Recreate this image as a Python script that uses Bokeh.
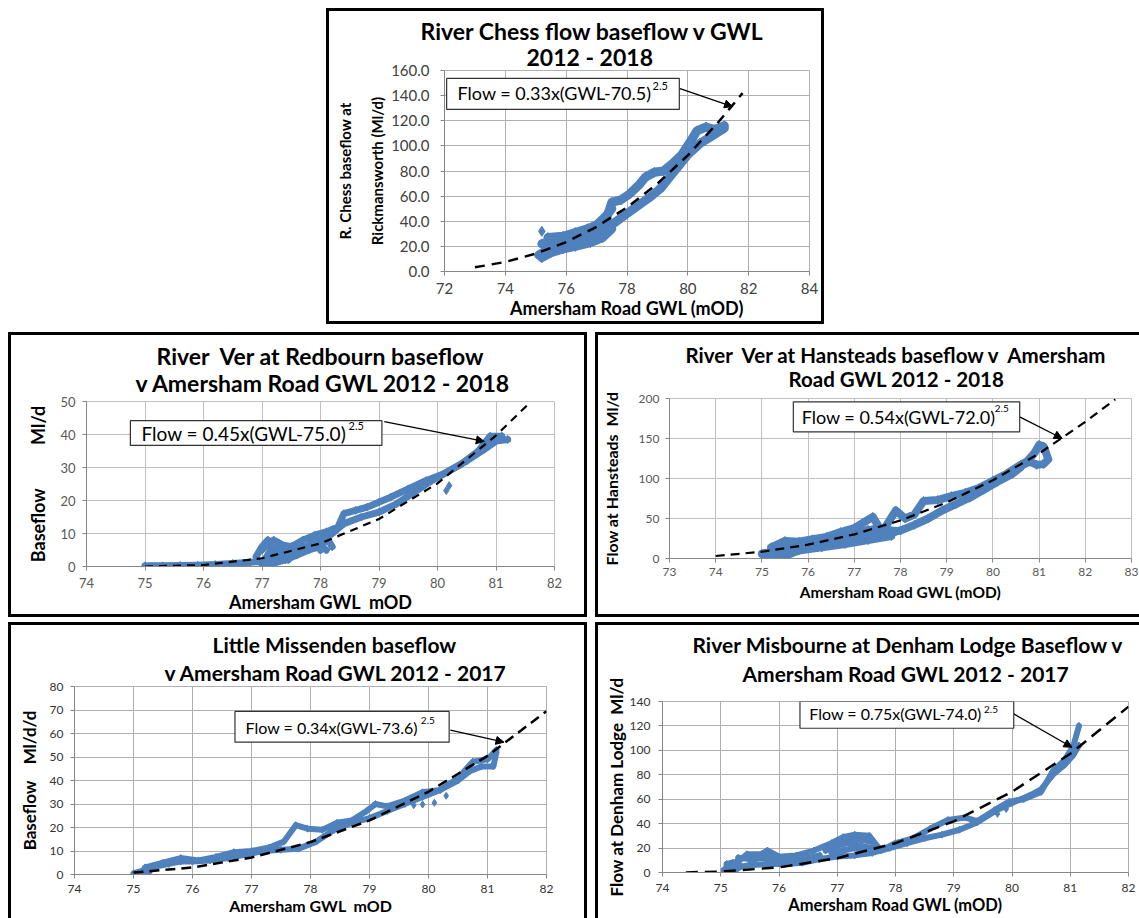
from bokeh.plotting import figure
from bokeh.layouts import column, row
from bokeh.models import (Range1d, FixedTicker, NumeralTickFormatter, Label, Title,
                          BoxAnnotation, Arrow, NormalHead, Spacer)
from bokeh.embed import file_html
from bokeh.resources import INLINE

BLUE = "#4F81BD"
FONT = "Lato"
NB = "\u00a0"

# ---------------- data: River Chess ----------------
chess_xticks = [72, 74, 76, 78, 80, 82, 84]
chess_yticks = [0, 20, 40, 60, 80, 100, 120, 140, 160]
chess_a_x = [75.1, 75.3, 75.5, 75.8, 76.1, 76.4, 76.7, 77.0, 77.3, 77.6, 78.0, 78.4, 78.8, 79.1, 79.4, 79.7, 80.0, 80.4, 80.8, 81.2]
chess_a_y = [13, 16, 19, 21, 22, 24, 27, 30, 34, 39, 46, 53, 60, 66, 75, 84, 93, 102, 108, 114]
chess_b_x = [75.2, 75.5, 75.8, 76.1, 76.4, 76.7, 77.0, 77.3, 77.5, 77.8, 78.1, 78.4, 78.6, 78.9, 79.2, 79.5, 79.8, 80.1, 80.3, 80.6, 80.9, 81.2]
chess_b_y = [22, 24, 25, 27, 28, 31, 34, 40, 55, 57, 62, 69, 75, 79, 80, 86, 93, 104, 112, 115, 113, 116]
chess_c_x = [75.6, 76.0, 76.5, 77.0, 77.4]
chess_c_y = [17, 19, 22, 26, 32]
chess_d_x = [75.2, 75.5, 75.9, 76.3, 76.8, 77.2, 77.5]
chess_d_y = [11, 15, 18, 20, 23, 27, 34]
chess_e_x = [75.4, 75.9, 76.3, 76.7, 77.0, 77.3, 77.5]
chess_e_y = [27, 28, 31, 34, 37, 44, 50]
chess_out_x = [75.2]
chess_out_y = [32]
chess_fit_x = [73, 74, 75, 76, 77, 78, 79, 80, 81, 81.8]
chess_fit_y = [3.3, 7.6, 14.2, 23.4, 35.6, 51.0, 69.9, 92.5, 118.8, 142]

# ---------------- data: Ver at Redbourn ----------------
red_xticks = [74, 75, 76, 77, 78, 79, 80, 81, 82]
red_yticks = [0, 10, 20, 30, 40, 50]
red_a_x = [75.0, 75.3, 75.6, 75.9, 76.2, 76.5, 76.8, 77.0, 77.2, 77.4, 77.6, 77.8, 78.0, 78.2, 78.4, 78.7, 79.0, 79.3, 79.6, 79.9, 80.2, 80.5, 80.8, 81.0, 81.2]
red_a_y = [0.2, 0.2, 0.3, 0.4, 0.6, 0.9, 1.3, 1.6, 2.5, 3.5, 4.5, 6.5, 8.5, 10, 13, 15, 16.5, 19, 22.5, 26, 29, 32, 35.5, 38, 38.5]
red_b_x = [77.0, 77.1, 77.2, 77.35, 77.5, 77.7, 77.9, 78.1, 78.3, 78.4, 78.6, 78.8, 79.0, 79.2, 79.5, 79.8, 80.1, 80.4, 80.7, 80.9, 81.1]
red_b_y = [5, 7, 8, 6.5, 6, 8, 9.5, 10.5, 12, 16, 17, 18, 19.5, 21, 23.5, 26, 28, 31, 35, 39.5, 39.5]
red_c_x = [77.0, 77.2, 77.4, 77.6, 77.8, 78.0, 78.1]
red_c_y = [0.5, 1, 2, 3.5, 5, 6, 5]
red_d_x = [76.9, 77.0, 77.1, 77.2, 77.3, 77.4, 77.5, 77.6]
red_d_y = [3, 6, 8, 4, 7, 3, 6, 4]
red_e_x = [77.8, 77.9, 78.0, 78.1, 78.2]
red_e_y = [6, 9, 5, 9, 6]
red_f_x = [77.05, 77.15, 77.25, 77.35, 77.45, 77.55, 77.7]
red_f_y = [2, 5, 2, 6, 2, 5, 6]
red_out_x = [80.2, 80.15]
red_out_y = [24.5, 23.0]
red_fit_x = [75, 76, 77, 78, 79, 80, 81, 81.6]
red_fit_y = [0, 0.45, 2.5, 7.0, 14.4, 25.2, 39.7, 50.0]

# ---------------- data: Ver at Hansteads ----------------
han_xticks = [73, 74, 75, 76, 77, 78, 79, 80, 81, 82, 83]
han_yticks = [0, 50, 100, 150, 200]
han_a_x = [75.0, 75.3, 75.6, 75.9, 76.2, 76.5, 76.8, 77.1, 77.4, 77.7, 78.0, 78.3, 78.6, 78.9, 79.2, 79.5, 79.8, 80.1, 80.4, 80.6]
han_a_y = [6, 9, 12, 14, 17, 20, 24, 27, 30, 32, 35, 42, 50, 60, 68, 76, 86, 96, 105, 114]
han_b_x = [75.2, 75.5, 75.8, 76.1, 76.4, 76.7, 77.0, 77.2, 77.4, 77.6, 77.9, 78.1, 78.3, 78.5, 78.8, 79.1, 79.4, 79.7, 80.0, 80.3, 80.6]
han_b_y = [14, 22, 21, 24, 27, 33, 38, 45, 52, 33, 60, 50, 55, 72, 73, 78, 82, 88, 97, 106, 117]
han_c_x = [80.6, 80.75, 80.9, 81.0, 81.1, 81.15, 81.2, 81.1, 80.95, 80.8, 80.65]
han_c_y = [117, 122, 132, 142, 140, 132, 124, 118, 117, 121, 117]
han_d_x = [75.3, 75.4, 75.8, 76.3, 76.8, 77.3, 77.8]
han_d_y = [3, 1, 10, 14, 18, 23, 28]
han_e_x = [75.5, 75.9, 76.3, 76.7, 77.0, 77.3, 77.6]
han_e_y = [18, 17, 22, 28, 31, 36, 30]
han_f_x = [75.1, 75.5, 76.0, 76.5, 77.0, 77.5, 77.9]
han_f_y = [4, 12, 18, 22, 30, 38, 34]
han_fit_x = [74, 75, 76, 77, 78, 79, 80, 81, 82, 82.65]
han_fit_y = [3.1, 8.4, 17.3, 30.2, 47.6, 70.0, 97.8, 131.2, 170.8, 199]

# ---------------- data: Little Missenden ----------------
lm_xticks = [74, 75, 76, 77, 78, 79, 80, 81, 82]
lm_yticks = [0, 10, 20, 30, 40, 50, 60, 70, 80]
lm_a_x = [75.0, 75.2, 75.4, 75.6, 75.8, 76.0, 76.3, 76.6, 76.9, 77.2, 77.5, 77.8, 78.1, 78.4, 78.7, 79.0, 79.3, 79.6, 79.9, 80.2, 80.5, 80.7, 80.9, 81.1, 81.15]
lm_a_y = [0.5, 2, 3.5, 4.5, 5.5, 5.5, 6, 7, 8.5, 10, 10.5, 11, 14, 19, 22, 24, 27, 30, 33, 36, 40, 44, 46, 46, 52]
lm_b_x = [75.2, 75.5, 75.8, 76.1, 76.4, 76.7, 77.0, 77.3, 77.55, 77.75, 77.95, 78.2, 78.45, 78.7, 78.95, 79.1, 79.3, 79.6, 79.9, 80.2, 80.5, 80.75, 81.0, 81.15]
lm_b_y = [3, 5, 7, 6, 7.5, 9.5, 10, 11.5, 14, 21, 19.5, 19, 22, 23, 27, 30, 29, 31.5, 35, 36, 41, 48, 49, 53]
lm_c_x = [75.15, 75.2, 75.25, 75.3]
lm_c_y = [1, 3, 0.5, 2.5]
lm_out_x = [79.75, 79.9, 80.1, 80.3]
lm_out_y = [29.5, 29.8, 30.5, 33.5]
lm_fit_x = [75, 76, 77, 78, 79, 80, 81, 82]
lm_fit_y = [0.8, 3.0, 7.2, 13.8, 23.0, 35.2, 50.5, 69.5]

# ---------------- data: Misbourne at Denham Lodge ----------------
dl_xticks = [74, 75, 76, 77, 78, 79, 80, 81, 82]
dl_yticks = [0, 20, 40, 60, 80, 100, 120, 140]
dl_a_x = [75.05, 75.2, 75.35, 75.5, 75.8, 76.1, 76.4, 76.7, 77.0, 77.3, 77.6, 77.9, 78.2, 78.5, 78.8, 79.1, 79.4, 79.7, 80.0, 80.3, 80.5, 80.7, 80.9, 81.05, 81.15]
dl_a_y = [2, 0.5, 5, 6, 7, 7, 8, 11, 13, 14, 16, 20, 24, 28, 31, 35, 41, 50, 57, 63, 68, 80, 88, 96, 104]
dl_b_x = [75.1, 75.3, 75.45, 75.7, 75.8, 76.0, 76.3, 76.6, 76.9, 77.1, 77.3, 77.55, 77.75, 78.0, 78.3, 78.6, 78.9, 79.2, 79.4, 79.7, 79.95, 80.2, 80.5, 80.7, 80.9, 81.05, 81.15]
dl_b_y = [7, 9, 15, 15, 18, 13, 14, 18, 24, 29, 31, 30, 18, 24, 28, 36, 43, 45, 42, 51, 58, 60, 66, 83, 92, 103, 120]
dl_c_x = [75.5, 75.7, 75.9, 76.1, 76.4, 76.7]
dl_c_y = [10, 12, 11, 10, 11, 14]
dl_d_x = [76.8, 77.0, 77.2, 77.4, 77.6]
dl_d_y = [18, 22, 24, 22, 20]
dl_e_x = [75.3, 75.5, 75.8, 76.1, 76.4]
dl_e_y = [12, 11, 13, 12, 12]
dl_f_x = [76.9, 77.1, 77.3, 77.5]
dl_f_y = [16, 18, 20, 17]
dl_g_x = [77.0, 77.2, 77.4, 77.6]
dl_g_y = [26, 28, 27, 25]
dl_h_x = [75.1, 75.15, 75.2, 75.25, 75.3]
dl_h_y = [5, 1, 8, 2, 6]
dl_out_x = [79.75, 79.9, 80.45]
dl_out_y = [48, 52, 66]
dl_fit_x = [74.4, 75, 76, 77, 78, 79, 80, 81, 82]
dl_fit_y = [0.1, 0.75, 4.2, 11.7, 24, 41.9, 66.1, 97.2, 135.8]


def make_fig(w, h, styles, mb, xr, yr, xticks, yticks, yfmt, tick_px, tick_col, grid_col,
             xstand, ystand, xlab, ylab, lab_px, xlab_stand, ylab_stand, ylab_lh=1.2):
    p = figure(width=w, height=h, x_range=Range1d(*xr), y_range=Range1d(*yr),
               output_backend="svg", toolbar_location=None,
               min_border_left=mb[0], min_border_right=mb[1],
               min_border_top=mb[2], min_border_bottom=mb[3],
               background_fill_color="white", border_fill_color="white")
    try:
        p.frame_align = False
    except Exception:
        pass
    p.styles = styles
    p.outline_line_color = grid_col
    p.xaxis.ticker = FixedTicker(ticks=xticks)
    p.yaxis.ticker = FixedTicker(ticks=yticks)
    p.yaxis.formatter = NumeralTickFormatter(format=yfmt)
    p.xaxis.formatter = NumeralTickFormatter(format="0")
    for ax in (p.xaxis, p.yaxis):
        ax.axis_line_color = "#868686"
        ax.major_tick_line_color = "#868686"
        ax.major_tick_out = 4
        ax.major_tick_in = 0
        ax.minor_tick_line_color = None
        ax.major_label_text_font = FONT
        ax.major_label_text_font_size = tick_px
        ax.major_label_text_color = tick_col
        ax.axis_label_text_font = FONT
        ax.axis_label_text_font_style = "bold"
        ax.axis_label_text_color = "black"
    p.xaxis.major_label_standoff = xstand
    p.yaxis.major_label_standoff = ystand
    p.xaxis.axis_label = xlab
    p.yaxis.axis_label = ylab
    p.xaxis.axis_label_text_font_size = lab_px[0]
    p.yaxis.axis_label_text_font_size = lab_px[1]
    p.yaxis.axis_label_text_line_height = ylab_lh
    p.xaxis.axis_label_standoff = xlab_stand
    p.yaxis.axis_label_standoff = ylab_stand
    p.xgrid.grid_line_color = grid_col
    p.ygrid.grid_line_color = grid_col
    return p


def draw_data(p, bands, singles, fit, lw, ms, dash, fit_w):
    for xs, ys in bands:
        p.line(xs, ys, line_width=lw, line_color=BLUE, line_join="round", line_cap="round")
        p.scatter(xs, ys, marker="diamond", size=ms, color=BLUE)
    for xs, ys in singles:
        p.scatter(xs, ys, marker="diamond", size=ms, color=BLUE)
    p.line(fit[0], fit[1], line_dash=dash, line_width=fit_w, line_color="black")


def add_titles(p, lines, size, offsets, standoffs):
    # second line first: it sits next to the frame
    for i in (1, 0):
        p.add_layout(Title(text=lines[i], align="left", offset=offsets[i], standoff=standoffs[i],
                           text_font=FONT, text_font_style="bold", text_font_size=size,
                           text_color="black"), "above")


def add_note(p, box, tpos, text, spos, size, ssize, arrow):
    p.add_layout(Arrow(x_start=arrow[0], y_start=arrow[1], x_end=arrow[2], y_end=arrow[3],
                       line_color="black", line_width=1.3,
                       end=NormalHead(size=8, fill_color="black", line_color="black")))
    p.add_layout(BoxAnnotation(left=box[0], right=box[1], top=box[2], bottom=box[3],
                               fill_color="white", fill_alpha=1.0, line_color="#333333",
                               line_alpha=1.0, line_width=1.2))
    p.add_layout(Label(x=tpos[0], y=tpos[1], text=text, text_align="left", text_baseline="middle",
                       text_font=FONT, text_font_size=size, text_color="black"))
    p.add_layout(Label(x=spos[0], y=spos[1], text="2.5", text_align="left", text_baseline="middle",
                       text_font=FONT, text_font_size=ssize, text_color="black"))


B = "3px solid black"

# ---- top: River Chess ----
pT = make_fig(498, 316, {"border": B}, (115, 18, 59, 56), (72, 84), (0, 160),
              chess_xticks, chess_yticks, "0.0", "15px", "#404040", "#b0b0b0", 7, 11,
              "Amersham Road GWL (mOD)", "R. Chess baseflow at\nRickmansworth (Ml/d)",
              ("18px", "15px"), 0, 2, 1.8)
draw_data(pT, [(chess_a_x, chess_a_y), (chess_b_x, chess_b_y), (chess_c_x, chess_c_y),
               (chess_d_x, chess_d_y), (chess_e_x, chess_e_y)],
          [(chess_out_x, chess_out_y)], (chess_fit_x, chess_fit_y), 9, 10, "10 7", 2.5)
add_titles(pT, ["River Chess flow baseflow v GWL", "2012 - 2018"], "23px", (-24, 82), (-9, 0))
add_note(pT, (72.07, 79.72, 153.7, 129.0), (72.43, 141.7), "Flow = 0.33x(GWL-70.5)",
         (78.84, 148), "18px", "11px", (79.72, 145.7, 81.47, 131.3))

# ---- middle left: Ver at Redbourn ----
pML = make_fig(579, 285, {"border": B}, (75, 36, 66, 54), (74, 82), (0, 50),
               red_xticks, red_yticks, "0", "13px", "#595959", "#c0c0c0", 7, 7,
               "Amersham GWL" + NB + " mOD", "Baseflow" + NB * 9 + " Ml/d", ("18px", "18px"), 0, 8)
draw_data(pML, [(red_a_x, red_a_y), (red_b_x, red_b_y), (red_c_x, red_c_y),
                (red_d_x, red_d_y), (red_e_x, red_e_y), (red_f_x, red_f_y)],
          [(red_out_x, red_out_y)], (red_fit_x, red_fit_y), 7, 8, "8 6", 2.2)
add_titles(pML, ["River" + NB + " Ver at Redbourn baseflow", "v Amersham Road GWL 2012 - 2018"],
           "23px", (70, 49), (-17, 10))
add_note(pML, (74.75, 79.05, 44.2, 36.7), (74.94, 40.3), "Flow = 0.45x(GWL-75.0)",
         (78.48, 42.7), "19px", "11px", (79.09, 43.9, 80.8, 37.9))

# ---- middle right: Ver at Hansteads ----
pMR = make_fig(544, 285, {"border-top": B, "border-left": B, "border-bottom": B},
               (70, 11, 63, 62), (73, 83), (0, 200),
               han_xticks, han_yticks, "0", "12px", "#595959", "#c0c0c0", 5, 6,
               "Amersham Road GWL (mOD)", "Flow at Hansteads" + NB + " Ml/d", ("15.5px", "16px"), 4, 15)
draw_data(pMR, [(han_a_x, han_a_y), (han_b_x, han_b_y), (han_c_x, han_c_y),
                (han_d_x, han_d_y), (han_e_x, han_e_y), (han_f_x, han_f_y)],
          [], (han_fit_x, han_fit_y), 8, 9, "9 6", 2.2)
add_titles(pMR, ["River" + NB + " Ver at Hansteads baseflow v" + NB + " Amersham", "Road GWL 2012 - 2018"],
           "20.5px", (16, 119), (-18, 15))
add_note(pMR, (75.68, 80.58, 195.9, 158.4), (75.86, 177.5), "Flow = 0.54x(GWL-72.0)",
         (80.04, 187.5), "18px", "10px", (80.58, 177, 81.5, 150))

# ---- bottom left: Little Missenden ----
pBL = make_fig(579, 296, {"border-top": B, "border-left": B, "border-right": B},
               (63, 44, 61, 47), (74, 82), (0, 80),
               lm_xticks, lm_yticks, "0", "12px", "#333333", "#b0b0b0", 6, 7,
               "Amersham GWL" + NB + " mOD", "Baseflow" + NB * 3 + " Ml/d/d", ("16px", "17px"), 0, 7)
draw_data(pBL, [(lm_a_x, lm_a_y), (lm_b_x, lm_b_y), (lm_c_x, lm_c_y)], [(lm_out_x, lm_out_y)],
          (lm_fit_x, lm_fit_y), 6, 7, "10 6", 2.5)
add_titles(pBL, ["Little Missenden baseflow", "v Amersham Road GWL 2012 - 2017"],
           "21px", (138, 90), (-1, 3))
add_note(pBL, (76.72, 80.35, 69.4, 56.3), (76.9, 62.5), "Flow = 0.34x(GWL-73.6)",
         (79.87, 65.5), "16px", "10px", (80.37, 61.4, 81.28, 56.3))

# ---- bottom right: Misbourne at Denham Lodge ----
pBR = make_fig(544, 296, {"border-top": B, "border-left": B},
               (64, 14, 76, 49), (74, 82), (0, 140),
               dl_xticks, dl_yticks, "0", "12px", "#333333", "#b0b0b0", 7, 8,
               "Amersham Road GWL (mOD)", "Flow at Denham Lodge" + NB + " Ml/d", ("16.5px", "17px"), 0, 0)
draw_data(pBR, [(dl_a_x, dl_a_y), (dl_b_x, dl_b_y), (dl_c_x, dl_c_y), (dl_d_x, dl_d_y),
                (dl_e_x, dl_e_y), (dl_f_x, dl_f_y), (dl_g_x, dl_g_y), (dl_h_x, dl_h_y)],
          [(dl_out_x, dl_out_y)], (dl_fit_x, dl_fit_y), 6, 7, "12 7", 2.5)
add_titles(pBR, ["River Misbourne at Denham Lodge Baseflow v", "Amersham Road GWL 2012 - 2017"],
           "21px", (30, 80), (-26, 31))
add_note(pBR, (76.36, 80.03, 140, 118.1), (76.52, 129.9), "Flow = 0.75x(GWL-74.0)",
         (79.52, 133.5), "16px", "10px", (80.03, 129.9, 81.03, 102.5))

layout = column(
    Spacer(width=10, height=8),
    row(Spacer(width=326, height=10), pT),
    Spacer(width=10, height=8),
    row(Spacer(width=8, height=10), pML, Spacer(width=8, height=10), pMR),
    Spacer(width=10, height=5),
    row(Spacer(width=8, height=10), pBL, Spacer(width=8, height=10), pBR),
)

open("out.html", "w").write(file_html(layout, INLINE))
